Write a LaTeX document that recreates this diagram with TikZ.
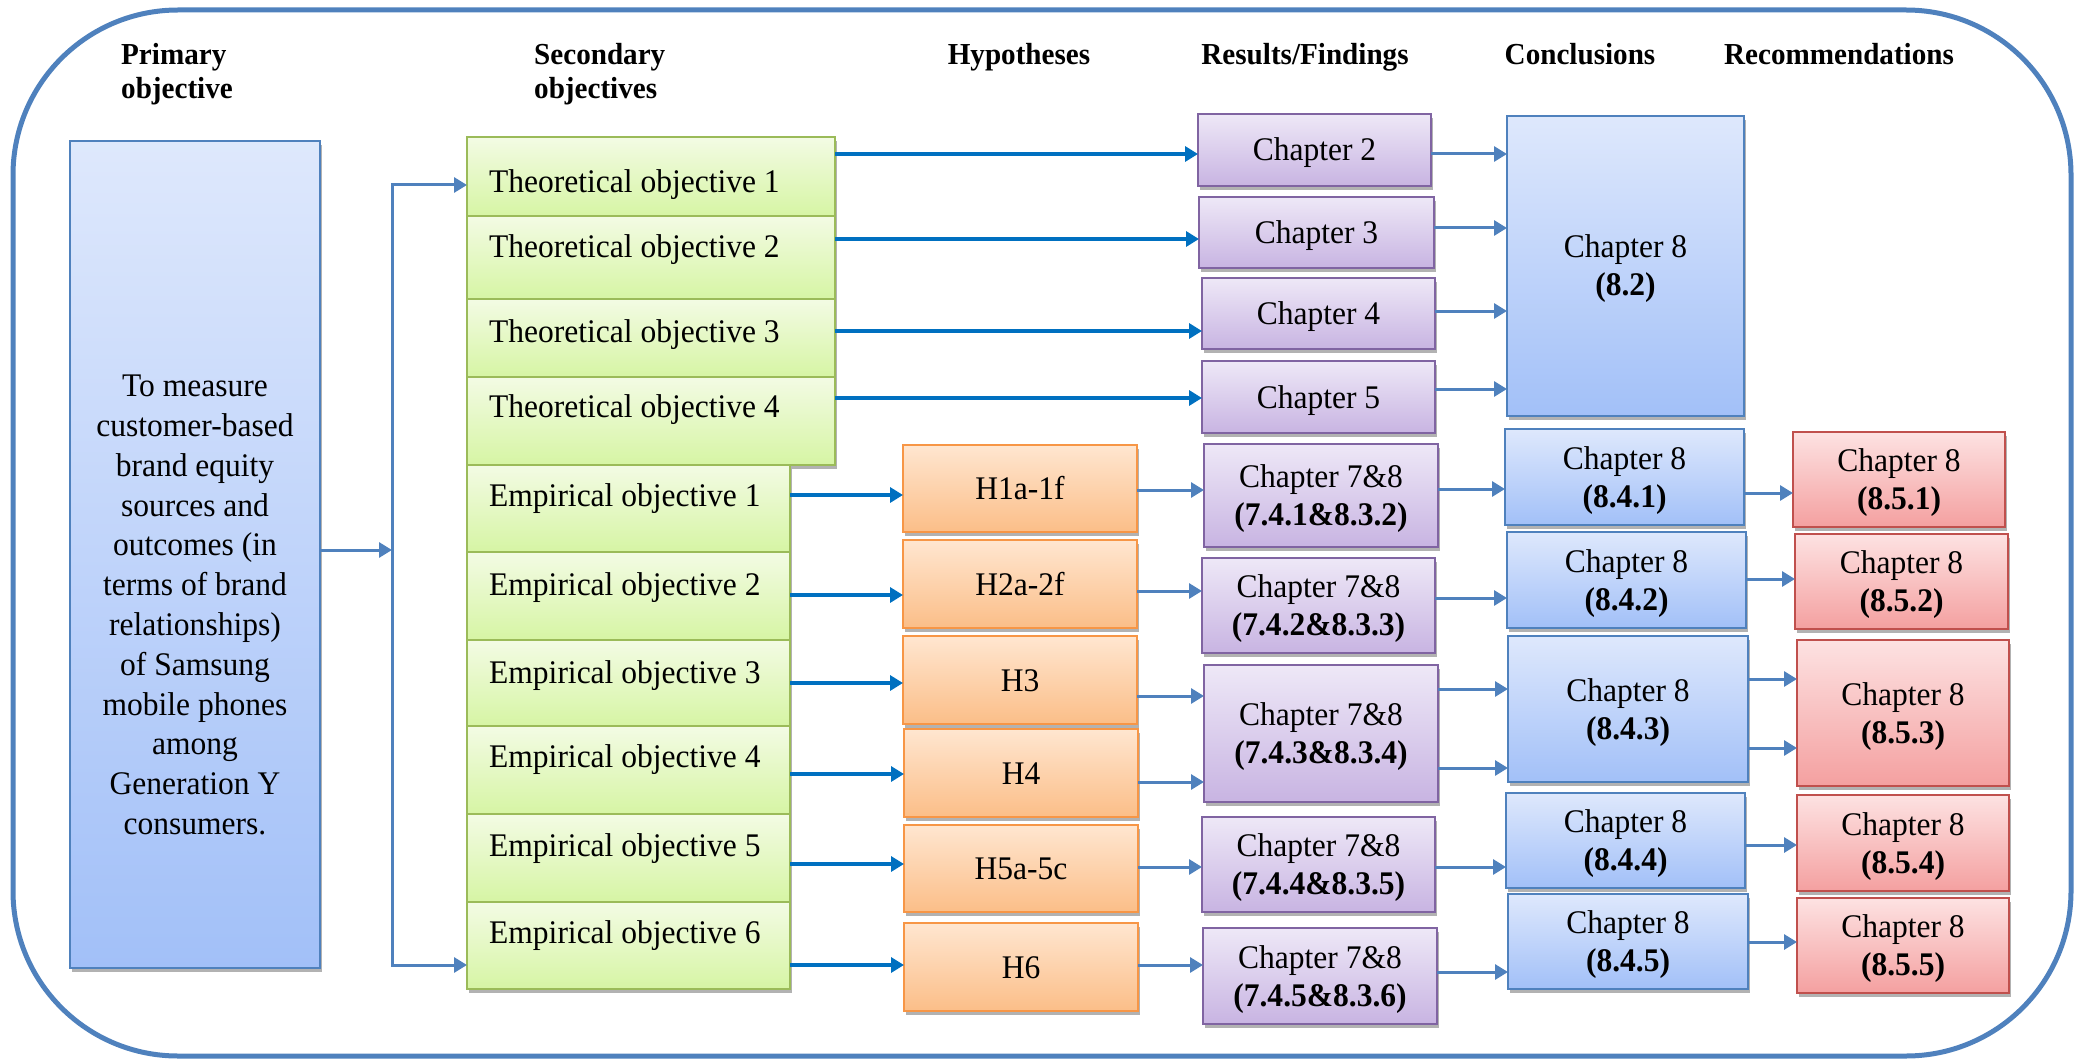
\documentclass[tikz,border=0pt]{standalone}
\usepackage{fontspec}
\setmainfont{Liberation Serif}[FakeStretch=0.955]
\usetikzlibrary{arrows.meta,shadows}
\definecolor{frame}{RGB}{79,129,189}
\definecolor{deepblue}{RGB}{0,112,192}
\definecolor{blueTop}{RGB}{222,232,252}
\definecolor{blueBot}{RGB}{162,192,248}
\definecolor{greenTop}{RGB}{243,251,228}
\definecolor{greenBot}{RGB}{214,245,164}
\definecolor{greenLine}{RGB}{155,187,89}
\definecolor{orangeTop}{RGB}{255,230,208}
\definecolor{orangeBot}{RGB}{251,190,136}
\definecolor{orangeLine}{RGB}{247,150,70}
\definecolor{purpleTop}{RGB}{238,232,247}
\definecolor{purpleBot}{RGB}{200,180,226}
\definecolor{purpleLine}{RGB}{128,100,162}
\definecolor{redTop}{RGB}{253,226,226}
\definecolor{redBot}{RGB}{244,160,160}
\definecolor{redLine}{RGB}{192,80,77}
% a box given by its corners: name, style, x1, y1, x2, y2
\newcommand\bx[6]{%
  \node[#2, minimum width={#5-#3}, minimum height={#6-#4}] (#1)
    at ({(#3+#5)/2},{(#4+#6)/2}) {};}
% one line of text, capitals centred in box #1
\newcommand\one[2]{\node[txt] (#1-t) at ([yshift=-11pt]#1.center) {#2};}
% two lines of text (second one bold), centred in box #1
\newcommand\two[3]{\node[txt] (#1-t) at ([yshift=8pt]#1.center)
  {\begin{tabular}[t]{@{}c@{}}#2\\\textbf{#3}\end{tabular}};}
% a horizontal connector at height #4 from box #2 to box #3
\newcommand\lnk[4]{\draw[#1] (#2.east |- 0,#4) -- (#3.west |- 0,#4);}
\begin{document}
\begin{tikzpicture}[x=1pt,y=-1pt,
  base/.style={draw, line width=2pt, inner sep=0pt, outer sep=0pt,
    drop shadow={shadow xshift=1.5pt, shadow yshift=-4pt, opacity=0.3, fill=black}},
  bluebox/.style={base, draw=frame, top color=blueTop, bottom color=blueBot},
  greenbox/.style={base, draw=greenLine, top color=greenTop, bottom color=greenBot},
  orangebox/.style={base, draw=orangeLine, top color=orangeTop, bottom color=orangeBot},
  purplebox/.style={base, draw=purpleLine, top color=purpleTop, bottom color=purpleBot},
  redbox/.style={base, draw=redLine, top color=redTop, bottom color=redBot},
  txt/.style={font=\fontsize{33}{38}\selectfont, inner sep=0pt, anchor=base},
  head/.style={font=\fontsize{30.5}{34}\selectfont\bfseries, inner sep=0pt, anchor=base},
  gtext/.style={font=\fontsize{33}{38}\selectfont, inner sep=0pt, anchor=base west},
  arr/.style={draw=frame, line width=3pt, -{Triangle[length=13pt,width=15pt]}},
  darr/.style={draw=deepblue, line width=3.5pt, -{Triangle[length=13pt,width=15pt]}}]
\useasboundingbox (0,0) rectangle (2082,1059);
% outer frame
\draw[frame, line width=5pt, rounded corners=165pt] (13,10) rectangle (2071,1056);

% column headings
\node[head, anchor=base west] (hprim) at (121,65)
  {\begin{tabular}[t]{@{}l@{}}Primary\\objective\end{tabular}};
\node[head, anchor=base west] (hsec) at (534,65)
  {\begin{tabular}[t]{@{}l@{}}Secondary\\objectives\end{tabular}};
\node[head] (hhyp) at (1019,65) {Hypotheses};
\node[head] (hres) at (1305,65) {Results/Findings};
\node[head] (hcon) at (1580,65) {Conclusions};
\node[head] (hrec) at (1839,65) {Recommendations};

% primary objective
\bx{prim}{bluebox}{70}{141}{320}{968}
\node[font=\fontsize{33}{39.8}\selectfont, align=center, inner sep=0pt] (goal) at (195,605)
  {To measure\\customer-based\\brand equity\\sources and\\outcomes (in\\terms of brand\\relationships)\\of Samsung\\mobile phones\\among\\Generation Y\\consumers.};

% secondary objectives
\bx{to1}{greenbox}{467}{137}{835}{216}
\bx{to2}{greenbox}{467}{216}{835}{299}
\bx{to3}{greenbox}{467}{299}{835}{377}
\bx{to4}{greenbox}{467}{377}{835}{465}
\bx{eo1}{greenbox}{467}{465}{790}{552}
\bx{eo2}{greenbox}{467}{552}{790}{640}
\bx{eo3}{greenbox}{467}{640}{790}{726}
\bx{eo4}{greenbox}{467}{726}{790}{814}
\bx{eo5}{greenbox}{467}{814}{790}{902}
\bx{eo6}{greenbox}{467}{902}{790}{989}
\node[gtext] (to1-t) at ([xshift=22pt]to1.west |- 0,193) {Theoretical objective 1};
\node[gtext] (to2-t) at ([xshift=22pt]to2.west |- 0,258) {Theoretical objective 2};
\node[gtext] (to3-t) at ([xshift=22pt]to3.west |- 0,342) {Theoretical objective 3};
\node[gtext] (to4-t) at ([xshift=22pt]to4.west |- 0,417) {Theoretical objective 4};
\node[gtext] (eo1-t) at ([xshift=22pt]eo1.west |- 0,506) {Empirical objective 1};
\node[gtext] (eo2-t) at ([xshift=22pt]eo2.west |- 0,595) {Empirical objective 2};
\node[gtext] (eo3-t) at ([xshift=22pt]eo3.west |- 0,683) {Empirical objective 3};
\node[gtext] (eo4-t) at ([xshift=22pt]eo4.west |- 0,767) {Empirical objective 4};
\node[gtext] (eo5-t) at ([xshift=22pt]eo5.west |- 0,856) {Empirical objective 5};
\node[gtext] (eo6-t) at ([xshift=22pt]eo6.west |- 0,943) {Empirical objective 6};

% hypotheses
\bx{h1}{orangebox}{903}{445}{1137}{532}
\bx{h2}{orangebox}{903}{540}{1137}{628}
\bx{h3}{orangebox}{903}{636}{1137}{724}
\bx{h4}{orangebox}{904}{729}{1138}{817}
\bx{h5}{orangebox}{904}{825}{1138}{912}
\bx{h6}{orangebox}{904}{923}{1138}{1011}
\one{h1}{H1a-1f}
\one{h2}{H2a-2f}
\one{h3}{H3}
\one{h4}{H4}
\one{h5}{H5a-5c}
\one{h6}{H6}

% results / findings
\bx{ch2}{purplebox}{1198}{114}{1431}{186}
\bx{ch3}{purplebox}{1199}{197}{1434}{268}
\bx{ch4}{purplebox}{1202}{278}{1435}{349}
\bx{ch5}{purplebox}{1202}{361}{1435}{433}
\bx{p1}{purplebox}{1204}{444}{1438}{547}
\bx{p2}{purplebox}{1202}{558}{1435}{653}
\bx{p3}{purplebox}{1204}{665}{1438}{802}
\bx{p4}{purplebox}{1202}{817}{1435}{912}
\bx{p5}{purplebox}{1203}{928}{1437}{1024}
\one{ch2}{Chapter 2}
\one{ch3}{Chapter 3}
\one{ch4}{Chapter 4}
\one{ch5}{Chapter 5}
\two{p1}{Chapter 7\&8}{(7.4.1\&8.3.2)}
\two{p2}{Chapter 7\&8}{(7.4.2\&8.3.3)}
\two{p3}{Chapter 7\&8}{(7.4.3\&8.3.4)}
\two{p4}{Chapter 7\&8}{(7.4.4\&8.3.5)}
\two{p5}{Chapter 7\&8}{(7.4.5\&8.3.6)}

% conclusions
\bx{c0}{bluebox}{1507}{116}{1744}{416}
\bx{c1}{bluebox}{1505}{429}{1744}{525}
\bx{c2}{bluebox}{1507}{532}{1746}{628}
\bx{c3}{bluebox}{1508}{636}{1748}{782}
\bx{c4}{bluebox}{1506}{793}{1745}{888}
\bx{c5}{bluebox}{1508}{894}{1748}{989}
\two{c0}{Chapter 8}{(8.2)}
\two{c1}{Chapter 8}{(8.4.1)}
\two{c2}{Chapter 8}{(8.4.2)}
\two{c3}{Chapter 8}{(8.4.3)}
\two{c4}{Chapter 8}{(8.4.4)}
\two{c5}{Chapter 8}{(8.4.5)}

% recommendations
\bx{r1}{redbox}{1793}{432}{2005}{527}
\bx{r2}{redbox}{1795}{534}{2008}{629}
\bx{r3}{redbox}{1797}{640}{2009}{786}
\bx{r4}{redbox}{1797}{795}{2009}{891}
\bx{r5}{redbox}{1797}{898}{2009}{993}
\two{r1}{Chapter 8}{(8.5.1)}
\two{r2}{Chapter 8}{(8.5.2)}
\two{r3}{Chapter 8}{(8.5.3)}
\two{r4}{Chapter 8}{(8.5.4)}
\two{r5}{Chapter 8}{(8.5.5)}

% primary objective splits into all secondary objectives
\coordinate (split) at (392,550);
\draw[arr] (prim.east |- split) -- (split);
\draw[arr, {Triangle[length=13pt,width=15pt]}-{Triangle[length=13pt,width=15pt]}]
  (to1.west |- 0,185) -| (split) |- (eo6.west |- 0,965);

% secondary objectives to findings and hypotheses
\lnk{darr}{to1}{ch2}{154}
\lnk{darr}{to2}{ch3}{239}
\lnk{darr}{to3}{ch4}{331}
\lnk{darr}{to4}{ch5}{398}
\lnk{darr}{eo1}{h1}{495}
\lnk{darr}{eo2}{h2}{595}
\lnk{darr}{eo3}{h3}{683}
\lnk{darr}{eo4}{h4}{774}
\lnk{darr}{eo5}{h5}{864}
\lnk{darr}{eo6}{h6}{965}

% hypotheses to findings
\lnk{arr}{h1}{p1}{490}
\lnk{arr}{h2}{p2}{591}
\lnk{arr}{h3}{p3}{696}
\lnk{arr}{h4}{p3}{782}
\lnk{arr}{h5}{p4}{867}
\lnk{arr}{h6}{p5}{965}

% findings to conclusions
\lnk{arr}{ch2}{c0}{154}
\lnk{arr}{ch3}{c0}{228}
\lnk{arr}{ch4}{c0}{311}
\lnk{arr}{ch5}{c0}{389}
\lnk{arr}{p1}{c1}{489}
\lnk{arr}{p2}{c2}{598}
\lnk{arr}{p3}{c3}{689}
\lnk{arr}{p3}{c3}{768}
\lnk{arr}{p4}{c4}{867}
\lnk{arr}{p5}{c5}{972}

% conclusions to recommendations
\lnk{arr}{c1}{r1}{493}
\lnk{arr}{c2}{r2}{579}
\lnk{arr}{c3}{r3}{679}
\lnk{arr}{c3}{r3}{748}
\lnk{arr}{c4}{r4}{845}
\lnk{arr}{c5}{r5}{942}
\end{tikzpicture}
\end{document}
